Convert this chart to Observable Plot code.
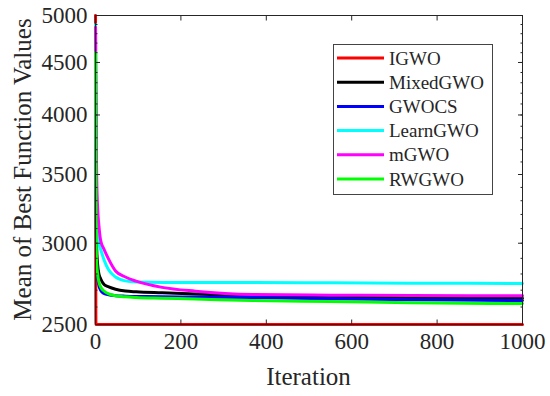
<!DOCTYPE html>
<html><head><meta charset="utf-8">
<script src="https://cdn.jsdelivr.net/npm/d3@7"></script>
<script src="https://cdn.jsdelivr.net/npm/@observablehq/plot@0.6"></script>
<style>
html,body{margin:0;padding:0;background:#fff;}
#chart{position:relative;width:550px;height:396px;}
#chart svg, #chart svg text{font-family:"Liberation Serif","Times New Roman",serif !important;}
</style></head><body><div id="chart"></div>
<script>
// ---- data ----
const iterations = [0, 1, 2, 3, 5, 8, 12, 20, 31, 47, 70, 95, 156, 234, 367, 550, 740, 1000];
const seriesNames = ["IGWO", "MixedGWO", "GWOCS", "LearnGWO", "mGWO", "RWGWO"];
const seriesColors = ["#ff0000", "#000000", "#0000ff", "#00ffff", "#ff00ff", "#00ff00"];
const IGWO     = [5000, 2500, 2500, 2500, 2500, 2500, 2500, 2500, 2500, 2500, 2500, 2500, 2500, 2500, 2500, 2500, 2500, 2500];
const MixedGWO = [4450, 3600, 3100, 2950, 2860, 2800, 2770, 2735, 2720, 2706, 2695, 2690, 2684, 2677, 2667, 2661, 2656, 2652];
const GWOCS    = [4400, 3400, 3000, 2850, 2780, 2727, 2700, 2680, 2672, 2667, 2664, 2662, 2661, 2659, 2656, 2648, 2643, 2638];
const LearnGWO = [4900, 4000, 3400, 3200, 3080, 3000, 2960, 2890, 2825, 2781, 2757, 2750, 2747, 2747, 2747, 2745, 2743, 2741];
const mGWO     = [4870, 4300, 3700, 3450, 3250, 3120, 3020, 2960, 2893, 2819, 2781, 2755, 2717, 2694, 2674, 2670, 2668, 2667];
const RWGWO    = [4600, 3300, 2950, 2860, 2800, 2750, 2720, 2695, 2678, 2667, 2660, 2656, 2652, 2647, 2638, 2632, 2625, 2620];
const yTicks = [2500, 3000, 3500, 4000, 4500, 5000];
const yMinorTicks = d3.range(2500, 5001, 100);
const xTicks = [0, 200, 400, 600, 800, 1000];
const xLabel = "Iteration";
const yLabel = "Mean of Best Function Values";

// ---- build table ----
const seriesValues = [IGWO, MixedGWO, GWOCS, LearnGWO, mGWO, RWGWO];
const rows = [];
seriesNames.forEach((name, s) => {
  iterations.forEach((it, i) => rows.push({name, iter: it, value: seriesValues[s][i]}));
});

// ---- layout ----
const W = 550, H = 396;
const mL = 95, mR = 28, mT = 15, mB = 72;
const ink = "#262626";
const font = "'Liberation Serif', 'Times New Roman', serif";

const plot = Plot.plot({
  width: W, height: H,
  marginLeft: mL, marginRight: mR, marginTop: mT, marginBottom: mB,
  style: {fontFamily: font, fontSize: "23px", color: ink, background: "#fff", overflow: "visible"},
  x: {domain: [0, 1000], label: null, axis: null},
  y: {type: "log", domain: [2500, 5000], label: null, axis: null},
  color: {domain: seriesNames, range: seriesColors},
  marks: [
    Plot.line(rows, {x: "iter", y: "value", z: "name", stroke: "name", strokeWidth: 3, strokeLinejoin: "round", curve: "monotone-x"}),
    Plot.frame({stroke: ink, strokeWidth: 1}),
    Plot.axisY(yTicks, {anchor: "left", tickSize: -5, fill: "none", label: null}),
    Plot.axisY(yTicks, {anchor: "right", tickSize: -5, fill: "none", label: null}),
    Plot.axisY(yMinorTicks, {anchor: "left", tickSize: -2.5, fill: "none", label: null}),
    Plot.axisY(yMinorTicks, {anchor: "right", tickSize: -2.5, fill: "none", label: null}),
    Plot.axisX(xTicks, {anchor: "bottom", tickSize: -4.5, fill: "none", label: null}),
    Plot.axisX(xTicks, {anchor: "top", tickSize: -4.5, fill: "none", label: null}),
    Plot.text(yTicks, {y: d => d, text: d => String(d), frameAnchor: "left", dx: -8, textAnchor: "end", lineAnchor: "middle", fontSize: 23, fontFamily: font, fill: ink}),
    Plot.text(xTicks, {x: d => d, text: d => String(d), frameAnchor: "bottom", dy: 8, textAnchor: "middle", lineAnchor: "top", fontSize: 23, fontFamily: font, fill: ink})
  ]
});

document.getElementById("chart").appendChild(plot);

// ---- axis titles & legend ----
const svg = d3.select(plot);
const cx = mL + (W - mL - mR) / 2;
const cy = mT + (H - mT - mB) / 2;
svg.append("text")
  .attr("x", cx).attr("y", 385)
  .attr("text-anchor", "middle")
  .attr("font-family", font).attr("font-size", 25).attr("fill", ink)
  .text(xLabel);
svg.append("text")
  .attr("transform", `translate(31,${cy}) rotate(-90)`)
  .attr("text-anchor", "middle")
  .attr("font-family", font).attr("font-size", 25).attr("fill", ink)
  .text(yLabel);

const lg = svg.append("g");
const lgX = 333, lgY = 44, lgW = 159, lgH = 150;
lg.append("rect").attr("x", lgX + 0.5).attr("y", lgY + 0.5).attr("width", lgW).attr("height", lgH)
  .attr("fill", "#fff").attr("stroke", "#444").attr("stroke-width", 1);
seriesNames.forEach((name, i) => {
  const yy = lgY + 14 + i * 24.2;
  lg.append("line").attr("x1", lgX + 4).attr("x2", lgX + 51).attr("y1", yy).attr("y2", yy)
    .attr("stroke", seriesColors[i]).attr("stroke-width", 3);
  lg.append("text").attr("x", lgX + 56).attr("y", yy).attr("dy", "0.35em")
    .attr("text-anchor", "start")
    .attr("font-family", font).attr("font-size", 19).attr("fill", ink)
    .text(name);
});
</script>
</body></html>
